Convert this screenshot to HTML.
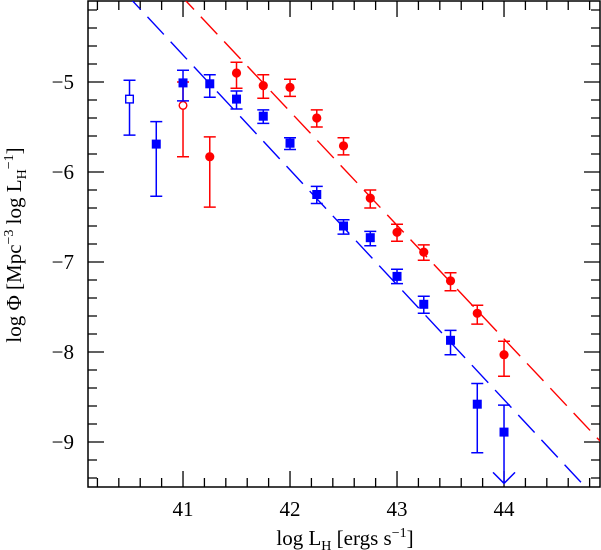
<!DOCTYPE html>
<html><head><meta charset="utf-8"><style>
body{margin:0;background:#fff;}
svg{display:block;font-family:"Liberation Serif",serif;}
</style></head><body>
<svg id="chart" width="601" height="550" viewBox="0 0 601 550" xmlns="http://www.w3.org/2000/svg">
<g id="grid"></g>
<g id="lines"></g>
<g id="marks"></g>
<text x="345" y="545" font-size="21" text-anchor="middle">log L<tspan font-size="14" dy="5">H</tspan><tspan dy="-5"> [ergs s</tspan><tspan font-size="14" dy="-8">−1</tspan><tspan dy="8">]</tspan></text>
<text transform="translate(21,245) rotate(-90)" font-size="21" text-anchor="middle">log Φ [Mpc<tspan font-size="14" dy="-8">−3</tspan><tspan dy="8"> log L</tspan><tspan font-size="14" dy="5">H</tspan><tspan font-size="14" dy="-13">−1</tspan><tspan dy="8">]</tspan></text>
</svg>
<script>
const blueX=[40.5,40.75,41.0,41.25,41.5,41.75,42.0,42.25,42.5,42.75,43.0,43.25,43.5,43.75,44.0];
const blueY=[-5.19,-5.69,-5.01,-5.02,-5.19,-5.38,-5.68,-6.25,-6.6,-6.73,-7.16,-7.47,-7.87,-8.58,-8.89];
const blueHi=[-4.98,-5.44,-4.87,-4.92,-5.1,-5.31,-5.62,-6.16,-6.53,-6.66,-7.08,-7.38,-7.76,-8.35,-8.59];
const blueLo=[-5.59,-6.27,-5.21,-5.17,-5.3,-5.46,-5.75,-6.35,-6.69,-6.82,-7.24,-7.57,-8.03,-9.12,-9.46];
const blueOpen=[true,false,false,false,false,false,false,false,false,false,false,false,false,false,false];
const blueUpper=[false,false,false,false,false,false,false,false,false,false,false,false,false,false,true];
const redX=[41.0,41.25,41.5,41.75,42.0,42.25,42.5,42.75,43.0,43.25,43.5,43.75,44.0];
const redY=[-5.26,-5.83,-4.9,-5.04,-5.06,-5.4,-5.71,-6.29,-6.67,-6.89,-7.21,-7.57,-8.03];
const redHi=[-5.0,-5.61,-4.78,-4.92,-4.97,-5.31,-5.62,-6.2,-6.58,-6.81,-7.12,-7.48,-7.88];
const redLo=[-5.83,-6.39,-5.07,-5.18,-5.16,-5.5,-5.81,-6.4,-6.77,-6.98,-7.32,-7.69,-8.27];
const redOpen=[true,false,false,false,false,false,false,false,false,false,false,false,false];
const blueFit=[[40.89,-4.56],[44.76,-9.5]];
const redFit=[[41.40,-4.57],[44.89,-8.98]];
const xTicks=[41,42,43,44];
const yTicks=[-5,-6,-7,-8,-9];

const NS="http://www.w3.org/2000/svg";
const L=88,R=600,T=1,B=487;
const x0=40.112,x1=44.897,y0=-9.5,y1=-4.1;
const sx=v=>L+(v-x0)/(x1-x0)*(R-L);
const sy=v=>B-(v-y0)/(y1-y0)*(B-T);
function mk(tag,attrs,parent){const e=document.createElementNS(NS,tag);for(const k in attrs)e.setAttribute(k,attrs[k]);parent.appendChild(e);return e;}
const grid=document.getElementById('grid'),lines=document.getElementById('lines'),marks=document.getElementById('marks');
const frame=mk('rect',{x:L,y:T,width:R-L,height:B-T,fill:'none',stroke:'#000','stroke-width':1.5},grid);


for(let i=Math.ceil(x0*5);i<=Math.floor(x1*5);i++){
  const v=i/5,X=sx(v),maj=Math.abs(v-Math.round(v))<1e-6,len=maj?16:9;
  const t=mk('path',{d:`M${X},${B}V${B-len}M${X},${T}V${T+len}`,stroke:'#000','stroke-width':1.3},grid);
  
  
}
for(let i=Math.ceil(y0*5);i<=Math.floor(y1*5);i++){
  const v=i/5,Y=sy(v),maj=Math.abs(v-Math.round(v))<1e-6,len=maj?16:9;
  const t=mk('path',{d:`M${L},${Y}H${L+len}M${R},${Y}H${R-len}`,stroke:'#000','stroke-width':1.3},grid);
  
  
}
xTicks.forEach(v=>{const t=mk('text',{x:sx(v),y:516,'font-size':21,'text-anchor':'middle'},grid);t.textContent=v;
  
  });
yTicks.forEach(v=>{const t=mk('text',{x:74,y:sy(v)+7,'font-size':21,'text-anchor':'end'},grid);t.textContent='−'+Math.abs(v);
  
  });
const cp=mk('clipPath',{id:'cp'},lines);mk('rect',{x:L,y:T,width:R-L,height:B-T},cp);lines.setAttribute('clip-path','url(#cp)');
function fit(p,color,name){
  const s=(p[1][1]-p[0][1])/(p[1][0]-p[0][0]);
  const xa=p[0][0]+(y1+0.1-p[0][1])/s, xb=x1+0.2;
  const f=x=>p[0][1]+s*(x-p[0][0]);
  const l=mk('line',{x1:sx(xa),y1:sy(f(xa)),x2:sx(xb),y2:sy(f(xb)),stroke:color,'stroke-width':1.4,'stroke-dasharray':'24 10'},lines);
  
  
}
fit(blueFit,'#0000ff','blue-fit-line');fit(redFit,'#ff0000','red-fit-line');
function series(xs,ys,hi,lo,open,upper,color,shape,name){
  xs.forEach((v,i)=>{
    const g=mk('g',{},marks);
    
    
    const X=sx(v),Y=sy(ys[i]),H=sy(hi[i]),Lo=sy(lo[i]);
    mk('path',{d:`M${X},${H}V${Lo}M${X-6},${H}H${X+6}`+(upper&&upper[i]?`M${X-11},${Lo-11}L${X},${Lo}L${X+11},${Lo-11}`:`M${X-6},${Lo}H${X+6}`),stroke:color,'stroke-width':1.5,fill:'none'},g);
    if(shape==='sq'){
      if(open[i]) mk('rect',{x:X-3.8,y:Y-3.8,width:7.6,height:7.6,fill:'#fff',stroke:color,'stroke-width':1.4},g);
      else mk('rect',{x:X-4.5,y:Y-4.5,width:9,height:9,fill:color},g);
    }else{
      if(open[i]) mk('circle',{cx:X,cy:Y,r:3.8,fill:'#fff',stroke:color,'stroke-width':1.4},g);
      else mk('circle',{cx:X,cy:Y,r:4.6,fill:color},g);
    }
  });
}
series(redX,redY,redHi,redLo,redOpen,null,'#ff0000','circ','red');
series(blueX,blueY,blueHi,blueLo,blueOpen,blueUpper,'#0000ff','sq','blue');
</script>
</body></html>
